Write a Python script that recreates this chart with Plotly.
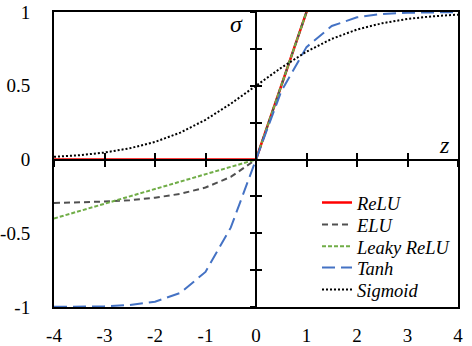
import plotly.graph_objects as go

# sample points (step 0.5)
z = [-4, -3.5, -3, -2.5, -2, -1.5, -1, -0.5, 0, 0.5, 1, 1.5, 2, 2.5, 3, 3.5, 4]
relu = [0, 0, 0, 0, 0, 0, 0, 0, 0, 0.5, 1, 1.5, 2, 2.5, 3, 3.5, 4]
elu = [-0.295, -0.291, -0.285, -0.276, -0.259, -0.233, -0.19, -0.118, 0,
       0.5, 1, 1.5, 2, 2.5, 3, 3.5, 4]
leaky = [-0.4, -0.35, -0.3, -0.25, -0.2, -0.15, -0.1, -0.05, 0,
         0.5, 1, 1.5, 2, 2.5, 3, 3.5, 4]
tanh = [-0.999, -0.998, -0.995, -0.987, -0.964, -0.905, -0.762, -0.462, 0,
        0.462, 0.762, 0.905, 0.964, 0.987, 0.995, 0.998, 0.999]
sigmoid = [0.018, 0.029, 0.047, 0.076, 0.119, 0.182, 0.269, 0.378, 0.5,
           0.622, 0.731, 0.818, 0.881, 0.924, 0.953, 0.971, 0.982]

x_ticks = [-4, -3, -2, -1, 0, 1, 2, 3, 4]
x_labels = ["-4", "-3", "-2", "-1", "0", "1", "2", "3", "4"]
y_ticks = [-1, -0.5, 0, 0.5, 1]
y_labels = ["-1", "-0.5", "0", "0.5", "1"]

serif = "Liberation Serif"

fig = go.Figure()

# dummy traces so the crossing axes get drawn
for xa, ya in [("x2", "y"), ("x3", "y"), ("x", "y2"), ("x", "y3")]:
    fig.add_trace(go.Scatter(x=z, y=relu, mode="lines", opacity=0, showlegend=False,
                             hoverinfo="skip", xaxis=xa, yaxis=ya))

series = [
    ("ReLU", relu, "#FF0000", "solid", 2.5),
    ("ELU", elu, "#505050", "6px,4px", 2),
    ("Leaky ReLU", leaky, "#70AD47", "4px,2px", 2),
    ("Tanh", tanh, "#4472C4", "13px,6px", 2),
    ("Sigmoid", sigmoid, "#000000", "2px,2px", 2),
]
# one legend per entry so the row spacing matches
legend_y = [0.353, 0.278, 0.204, 0.132, 0.058]
for i, (name, vals, col, d, w) in enumerate(series):
    lg = "legend" if i == 0 else "legend%d" % (i + 1)
    fig.add_trace(go.Scatter(x=z, y=vals, mode="lines", name="<i>" + name + "</i>",
                             line=dict(color=col, dash=d, width=w), legend=lg))
    fig.update_layout({lg: dict(x=0.651, y=legend_y[i], xanchor="left", yanchor="middle",
                                bgcolor="rgba(0,0,0,0)",
                                font=dict(family=serif, size=18.5, color="black"))})

fig.update_layout(
    width=472, height=346,
    margin=dict(l=54, r=14, t=12, b=39),
    plot_bgcolor="white", paper_bgcolor="white",
    font=dict(family=serif, size=19, color="black"),
    showlegend=True,
    xaxis=dict(range=[-4, 4], tickvals=x_ticks, ticktext=x_labels, showgrid=False,
               zeroline=False, showline=True, mirror=True, linecolor="black", linewidth=2,
               ticks="", ticklabelstandoff=10, automargin=False,
               tickfont=dict(family=serif, size=19)),
    yaxis=dict(range=[-1, 1], tickvals=y_ticks, ticktext=y_labels, showgrid=False,
               zeroline=False, showline=True, mirror=True, linecolor="black", linewidth=2,
               ticks="", ticklabelstandoff=18, automargin=False,
               tickfont=dict(family=serif, size=19)),
)

# axes through the origin with crossing ticks
for name, side in [("xaxis2", "outside"), ("xaxis3", "inside")]:
    fig.update_layout({name: dict(overlaying="x", anchor="free", position=0.5,
                                  range=[-4, 4], tickvals=x_ticks, ticks=side, ticklen=6,
                                  tickwidth=2, tickcolor="black", showticklabels=False,
                                  showgrid=False, zeroline=False, showline=True,
                                  linecolor="black", linewidth=2, automargin=False)})
for name, side in [("yaxis2", "outside"), ("yaxis3", "inside")]:
    fig.update_layout({name: dict(overlaying="y", anchor="free", position=0.5,
                                  range=[-1, 1], dtick=0.25, ticks=side, ticklen=5,
                                  tickwidth=2, tickcolor="black", showticklabels=False,
                                  showgrid=False, zeroline=False, showline=True,
                                  linecolor="black", linewidth=2, automargin=False)})

fig.add_annotation(x=-0.38, y=0.92, xref="x", yref="y", text="<i>σ</i>", showarrow=False,
                   font=dict(family=serif, size=24))
fig.add_annotation(x=3.74, y=0.1, xref="x", yref="y", text="<i>z</i>", showarrow=False,
                   font=dict(family=serif, size=24))

fig.write_html("out.html", config={"displayModeBar": False},
               post_script="document.body.style.margin='0';")
